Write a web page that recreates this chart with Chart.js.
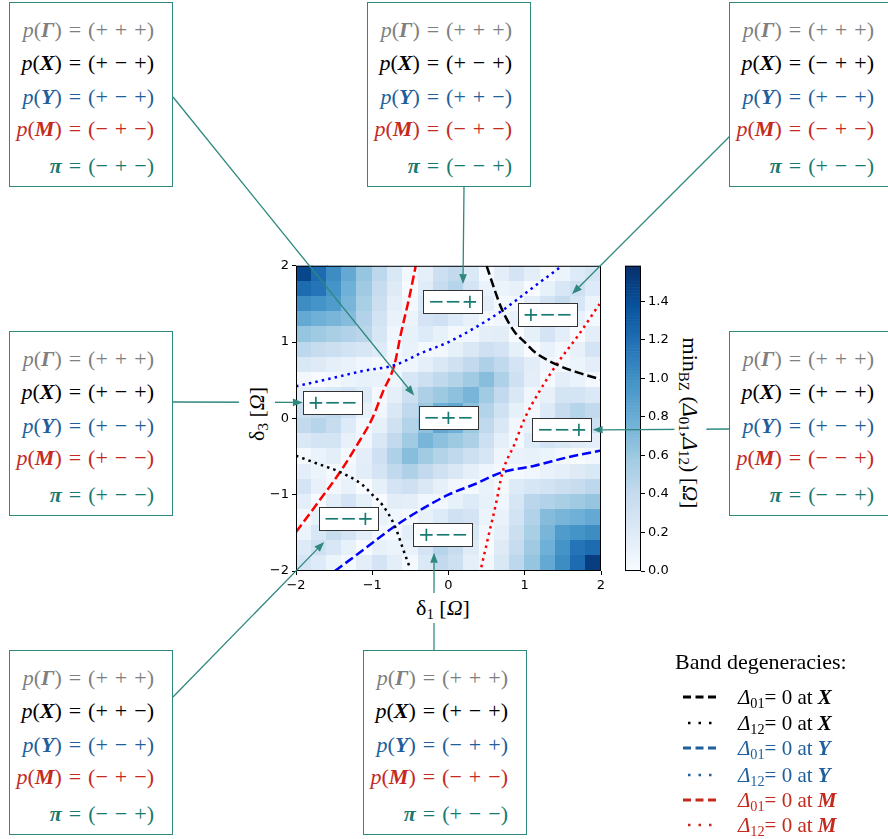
<!DOCTYPE html>
<html>
<head>
<meta charset="utf-8">
<script src="https://cdn.jsdelivr.net/npm/chart.js@4.4.1/dist/chart.umd.min.js"></script>
<style>
  html, body { margin: 0; padding: 0; background: #fff; }
  body { position: relative; width: 888px; height: 839px; overflow: hidden; font-family: "Liberation Serif", "Times New Roman", serif; }
  canvas { position: absolute; }
  #overlay { position: absolute; left: 0; top: 0; z-index: 1; pointer-events: none; }
  .pbox { position: absolute; width: 164px; box-sizing: border-box; border: 1.5px solid #2e887e; background: #fff; z-index: 2; }
  .prow { position: absolute; right: 18px; height: 26px; line-height: 26px; font-size: 22px; word-spacing: 1.5px; white-space: nowrap; }
  .c-g { color: #7f7f7f; } .c-x { color: #000; } .c-y { color: #1f5f9b; } .c-m { color: #c42a1e; } .c-pi { color: #177a70; }
  .tag { position: absolute; z-index: 2; width: 60px; height: 24px; box-sizing: border-box; border: 1.5px solid #333;
         background: #fff; color: #177a70; font-family: "DejaVu Sans", sans-serif; font-size: 20px; line-height: 20px; text-align: center; }
  .title { position: absolute; z-index: 2; background: #fff; white-space: nowrap; font-size: 22px; line-height: 24px; }
  sub { font-size: 0.68em; vertical-align: -0.3em; line-height: 0; }
  .leg { position: absolute; left: 738px; font-size: 21px; height: 24px; line-height: 24px; white-space: nowrap; z-index: 2; }
  .legtitle { font-size: 22px; }
</style>
</head>
<body>
<canvas id="main" width="380" height="360" style="left:240px;top:255px"></canvas>
<canvas id="cbar" width="85" height="330" style="left:615px;top:255px"></canvas>
<svg id="overlay" width="888" height="839"></svg>

<script>
(() => {
  // --- Datos ---
  const d1Centers = [-1.9,-1.7,-1.5,-1.3,-1.1,-0.9,-0.7,-0.5,-0.3,-0.1,0.1,0.3,0.5,0.7,0.9,1.1,1.3,1.5,1.7,1.9];
  const d3Centers = [1.9,1.7,1.5,1.3,1.1,0.9,0.7,0.5,0.3,0.1,-0.1,-0.3,-0.5,-0.7,-0.9,-1.1,-1.3,-1.5,-1.7,-1.9];
  const gapGrid = [
    [1.45,1.22,1.02,0.83,0.63,0.44,0.24,0.05,0.15,0.34,0.41,0.22,0.03,0.16,0.28,0.16,0.03,0.09,0.21,0.27],
    [1.22,1.17,0.98,0.78,0.59,0.39,0.20,0.00,0.19,0.39,0.47,0.28,0.10,0.09,0.12,0.00,0.13,0.25,0.33,0.21],
    [1.02,0.98,0.93,0.74,0.54,0.35,0.15,0.04,0.24,0.43,0.39,0.29,0.16,0.03,0.04,0.16,0.28,0.39,0.25,0.09],
    [0.83,0.78,0.74,0.69,0.50,0.30,0.11,0.09,0.28,0.32,0.21,0.12,0.02,0.06,0.11,0.28,0.42,0.28,0.13,0.03],
    [0.63,0.59,0.54,0.50,0.45,0.26,0.06,0.13,0.21,0.13,0.04,0.06,0.16,0.17,0.00,0.14,0.28,0.16,0.00,0.16],
    [0.44,0.39,0.35,0.30,0.26,0.21,0.02,0.11,0.03,0.05,0.14,0.23,0.33,0.28,0.14,0.00,0.11,0.04,0.12,0.28],
    [0.24,0.20,0.15,0.11,0.06,0.02,0.03,0.07,0.15,0.23,0.31,0.41,0.51,0.42,0.28,0.17,0.06,0.03,0.09,0.16],
    [0.05,0.00,0.04,0.09,0.13,0.11,0.07,0.26,0.34,0.42,0.49,0.58,0.68,0.51,0.33,0.16,0.02,0.16,0.10,0.03],
    [0.15,0.19,0.24,0.28,0.21,0.03,0.15,0.34,0.52,0.60,0.66,0.74,0.58,0.41,0.23,0.06,0.12,0.29,0.28,0.22],
    [0.34,0.39,0.43,0.32,0.13,0.05,0.23,0.42,0.60,0.78,0.84,0.66,0.49,0.31,0.14,0.04,0.21,0.39,0.47,0.41],
    [0.41,0.47,0.39,0.21,0.04,0.14,0.31,0.49,0.66,0.84,0.78,0.60,0.42,0.23,0.05,0.13,0.32,0.43,0.39,0.34],
    [0.22,0.28,0.29,0.12,0.06,0.23,0.41,0.58,0.74,0.66,0.60,0.52,0.34,0.15,0.03,0.21,0.28,0.24,0.19,0.15],
    [0.03,0.10,0.16,0.02,0.16,0.33,0.51,0.68,0.58,0.49,0.42,0.34,0.26,0.07,0.11,0.13,0.09,0.04,0.00,0.05],
    [0.16,0.09,0.03,0.06,0.17,0.28,0.42,0.51,0.41,0.31,0.23,0.15,0.07,0.03,0.02,0.06,0.11,0.15,0.20,0.24],
    [0.28,0.12,0.04,0.11,0.00,0.14,0.28,0.33,0.23,0.14,0.05,0.03,0.11,0.02,0.21,0.26,0.30,0.35,0.39,0.44],
    [0.16,0.00,0.16,0.28,0.14,0.00,0.17,0.16,0.06,0.04,0.13,0.21,0.13,0.06,0.26,0.45,0.50,0.54,0.59,0.63],
    [0.03,0.13,0.28,0.42,0.28,0.11,0.06,0.02,0.12,0.21,0.32,0.28,0.09,0.11,0.30,0.50,0.69,0.74,0.78,0.83],
    [0.09,0.25,0.39,0.28,0.16,0.04,0.03,0.16,0.29,0.39,0.43,0.24,0.04,0.15,0.35,0.54,0.74,0.93,0.98,1.02],
    [0.21,0.33,0.25,0.13,0.00,0.12,0.09,0.10,0.28,0.47,0.39,0.19,0.00,0.20,0.39,0.59,0.78,0.98,1.17,1.22],
    [0.27,0.21,0.09,0.03,0.16,0.28,0.16,0.03,0.22,0.41,0.34,0.15,0.05,0.24,0.44,0.63,0.83,1.02,1.22,1.50]
  ];
  const gapMax = 1.585;
  const axisTicks = [-2, -1, 0, 1, 2];
  const colorbarTicks = [0, 0.2, 0.4, 0.6, 0.8, 1.0, 1.2, 1.4];

  // lineas de degeneracion (delta1, delta3)
  const delta01X = [{x:0.50,y:2.0},{x:0.60,y:1.70},{x:0.70,y:1.43},{x:0.87,y:1.13},{x:1.0,y:1.0},{x:1.13,y:0.87},{x:1.43,y:0.70},{x:1.70,y:0.60},{x:2.0,y:0.51}];
  const delta12X = [{x:-2.0,y:-0.49},{x:-1.70,y:-0.60},{x:-1.43,y:-0.70},{x:-1.13,y:-0.87},{x:-1.0,y:-1.0},{x:-0.87,y:-1.13},{x:-0.70,y:-1.42},{x:-0.60,y:-1.70},{x:-0.51,y:-1.95}];
  const delta01Y = [{x:-1.49,y:-2.0},{x:-1.10,y:-1.71},{x:-0.70,y:-1.41},{x:-0.35,y:-1.19},{x:0.0,y:-1.0},{x:0.35,y:-0.86},{x:0.69,y:-0.71},{x:1.13,y:-0.62},{x:1.56,y:-0.51},{x:2.0,y:-0.42}];
  const delta12Y = [{x:-2.0,y:0.42},{x:-1.56,y:0.52},{x:-1.13,y:0.62},{x:-0.70,y:0.70},{x:-0.35,y:0.86},{x:0.0,y:1.0},{x:0.35,y:1.19},{x:0.70,y:1.41},{x:1.10,y:1.71},{x:1.49,y:2.0}];
  const delta01M = [{x:-2.0,y:-1.49},{x:-1.71,y:-1.10},{x:-1.42,y:-0.70},{x:-1.20,y:-0.35},{x:-1.0,y:0.0},{x:-0.86,y:0.35},{x:-0.71,y:0.70},{x:-0.62,y:1.13},{x:-0.52,y:1.56},{x:-0.43,y:2.0}];
  const delta12M = [{x:0.43,y:-1.95},{x:0.52,y:-1.56},{x:0.62,y:-1.13},{x:0.71,y:-0.70},{x:0.86,y:-0.35},{x:1.0,y:0.0},{x:1.19,y:0.35},{x:1.42,y:0.71},{x:1.71,y:1.10},{x:1.98,y:1.50}];

  // paridades de cada recuadro: TL, TC, TR, LM, RM, BL, BC
  const parGamma = ["+++", "+++", "+++", "+++", "+++", "+++", "+++"];
  const parX     = ["+−+", "+−+", "−++", "+−+", "+−+", "++−", "+−+"];
  const parY     = ["+−+", "++−", "+−+", "+−+", "+−+", "+−+", "−++"];
  const parM     = ["−+−", "−+−", "−+−", "+−−", "−−+", "−+−", "−+−"];
  const parPi    = ["−+−", "−−+", "+−−", "+−−", "−−+", "−−+", "+−−"];
  // etiqueta dentro del mapa (delta1, delta3) y punta de la flecha
  const tagCenters = [[0.0,0.0],[0.06,1.53],[1.30,1.35],[-1.52,0.20],[1.49,-0.15],[-1.31,-1.32],[-0.07,-1.53]];
  const arrowTips  = [[-0.45,0.30],[0.19,1.76],[1.62,1.63],[-1.91,0.21],[1.89,-0.15],[-1.63,-1.62],[-0.19,-1.76]];

  const legendSubs   = ["01", "12", "01", "12", "01", "12"];
  const legendPoints = ["X", "X", "Y", "Y", "M", "M"];

  // --- Estilos / layout ---
  const TEAL = "#2e887e";
  const BLUES = ["#f7fbff","#deebf7","#c6dbef","#9ecae1","#6baed6","#4292c6","#2171b5","#08519c","#08306b"];
  const hexRgb = h => [1, 3, 5].map(k => parseInt(h.substr(k, 2), 16));
  const blues = (t) => {
    t = Math.max(0, Math.min(1, t));
    const p = t * 8, i = Math.min(7, Math.floor(p)), f = p - i;
    const a = hexRgb(BLUES[i]), b = hexRgb(BLUES[i + 1]);
    return `rgb(${a.map((c, k) => Math.round(c + (b[k] - c) * f)).join(",")})`;
  };
  const tickFont = { family: "DejaVu Sans", size: 13 };
  const minus = v => String(v).replace("-", "\u2212");

  const boxLayout = [
    { left: 9,   top: 2,   tail: [173, 97] },
    { left: 367, top: 2,   tail: [464, 187] },
    { left: 729, top: 2,   tail: [730, 136] },
    { left: 9,   top: 331, tail: [173, 402] },
    { left: 729, top: 331, tail: [730, 429] },
    { left: 9,   top: 650, tail: [173, 697] },
    { left: 363, top: 650, tail: [434, 650] }
  ];
  const rowOffsets = [28, 61, 95, 127, 164];

  // --- Plugins ---
  const heatmapPlugin = {
    id: "heatmap",
    beforeDatasetsDraw(chart) {
      const { ctx, chartArea: a, scales: { x, y } } = chart;
      const hx = (d1Centers[1] - d1Centers[0]) / 2, hy = (d3Centers[0] - d3Centers[1]) / 2;
      ctx.save();
      ctx.beginPath(); ctx.rect(a.left, a.top, a.width, a.height); ctx.clip();
      gapGrid.forEach((row, j) => row.forEach((v, i) => {
        const x0 = x.getPixelForValue(d1Centers[i] - hx), x1 = x.getPixelForValue(d1Centers[i] + hx);
        const y0 = y.getPixelForValue(d3Centers[j] + hy), y1 = y.getPixelForValue(d3Centers[j] - hy);
        ctx.fillStyle = blues(v / gapMax);
        ctx.fillRect(Math.floor(x0), Math.floor(y0), Math.ceil(x1 - x0) + 1, Math.ceil(y1 - y0) + 1);
      }));
      ctx.restore();
    },
    afterDatasetsDraw(chart) {
      const { ctx, chartArea: a } = chart;
      ctx.save();
      ctx.strokeStyle = "#000"; ctx.lineWidth = 1;
      ctx.strokeRect(a.left + 0.5, a.top + 0.5, a.width - 1, a.height - 1);
      ctx.restore();
    }
  };

  const colorbarPlugin = {
    id: "colorbar",
    beforeDatasetsDraw(chart) {
      const { ctx, chartArea: a, scales: { y } } = chart;
      const n = 200;
      ctx.save();
      for (let k = 0; k < n; k++) {
        const v0 = gapMax * k / n, v1 = gapMax * (k + 1) / n;
        const p0 = y.getPixelForValue(v0), p1 = y.getPixelForValue(v1);
        ctx.fillStyle = blues((v0 + v1) / 2 / gapMax);
        ctx.fillRect(a.left, p1, a.width, p0 - p1 + 0.6);
      }
      ctx.strokeStyle = "#000"; ctx.lineWidth = 1;
      ctx.strokeRect(a.left + 0.5, a.top + 0.5, a.width - 1, a.height - 1);
      ctx.restore();
    }
  };

  const lineSet = (data, color, dotted) => ({
    data, borderColor: color, borderWidth: 2.5, showLine: true, pointRadius: 0, fill: false,
    cubicInterpolationMode: "monotone", borderDash: dotted ? [2.5, 4.1] : [9.2, 4], borderCapStyle: "butt"
  });

  const axisCommon = (pos) => ({
    type: "linear", min: -2, max: 2, position: pos,
    afterBuildTicks: s => { s.ticks = axisTicks.map(v => ({ value: v })); },
    ticks: { font: tickFont, color: "#000", padding: 3, callback: v => minus(v) },
    grid: { drawOnChartArea: false, drawTicks: true, tickLength: 4, tickWidth: 1, color: "#000" },
    border: { display: false }
  });

  const mainChart = new Chart(document.getElementById("main"), {
    type: "scatter",
    data: {
      datasets: [
        lineSet(delta01X, "#000", false),
        lineSet(delta12X, "#000", true),
        lineSet(delta01Y, "#0000ff", false),
        lineSet(delta12Y, "#0000ff", true),
        lineSet(delta01M, "#ff0000", false),
        lineSet(delta12M, "#ff0000", true)
      ]
    },
    options: {
      responsive: false, animation: false, devicePixelRatio: 1,
      layout: { padding: { left: 0, top: 10, right: 19, bottom: 0 } },
      plugins: { legend: { display: false }, tooltip: { enabled: false } },
      scales: {
        x: Object.assign(axisCommon("bottom"), { afterFit: s => { s.height = 44; } }),
        y: Object.assign(axisCommon("left"), { afterFit: s => { s.width = 56; } })
      }
    },
    plugins: [heatmapPlugin]
  });

  new Chart(document.getElementById("cbar"), {
    type: "scatter",
    data: { datasets: [] },
    options: {
      responsive: false, animation: false, devicePixelRatio: 1,
      layout: { padding: { left: 10, top: 10, right: 0, bottom: 14 } },
      plugins: { legend: { display: false }, tooltip: { enabled: false } },
      scales: {
        x: { display: false, min: 0, max: 1 },
        y: {
          position: "right", min: 0, max: gapMax,
          afterBuildTicks: s => { s.ticks = colorbarTicks.map(v => ({ value: v })); },
          afterFit: s => { s.width = 59; },
          ticks: { font: tickFont, color: "#000", padding: 3, callback: v => v.toFixed(1) },
          grid: { drawOnChartArea: false, drawTicks: true, tickLength: 4, tickWidth: 1, color: "#000" },
          border: { display: false }
        }
      }
    },
    plugins: [colorbarPlugin]
  });

  // --- Anotaciones HTML ---
  const body = document.body;
  const add = (cls, html, style) => {
    const d = document.createElement("div");
    d.className = cls; d.innerHTML = html; Object.assign(d.style, style);
    body.appendChild(d); return d;
  };
  const signs = p => "(" + [...p].join(" ") + ")";
  const mx = mainChart.scales.x, my = mainChart.scales.y;
  const px = v => 240 + mx.getPixelForValue(v);
  const py = v => 255 + my.getPixelForValue(v);

  boxLayout.forEach((b, k) => {
    const box = add("pbox", "", { left: b.left + "px", top: b.top + "px", height: "185px" });
    const rows = [
      ["c-g", `<i>p</i>(<b><i>Γ</i></b>) = ${signs(parGamma[k])}`],
      ["c-x", `<i>p</i>(<b><i>X</i></b>) = ${signs(parX[k])}`],
      ["c-y", `<i>p</i>(<b><i>Y</i></b>) = ${signs(parY[k])}`],
      ["c-m", `<i>p</i>(<b><i>M</i></b>) = ${signs(parM[k])}`],
      ["c-pi", `<b><i>π</i></b> = ${signs(parPi[k])}`]
    ];
    rows.forEach(([c, h], r) => {
      const d = document.createElement("div");
      d.className = "prow " + c; d.innerHTML = h;
      d.style.top = (rowOffsets[r] - 13 - 1.5) + "px";
      box.appendChild(d);
    });
    const [tx, ty] = tagCenters[k];
    add("tag", parPi[k], { left: (px(tx) - 30) + "px", top: (py(ty) - 12) + "px" });
  });

  // flechas
  const svg = document.getElementById("overlay");
  const NS = "http://www.w3.org/2000/svg";
  const el = (n, attrs) => { const e = document.createElementNS(NS, n); for (const k in attrs) e.setAttribute(k, attrs[k]); svg.appendChild(e); return e; };
  boxLayout.forEach((b, k) => {
    const [x1, y1] = b.tail;
    const x2 = px(arrowTips[k][0]), y2 = py(arrowTips[k][1]);
    const dx = x2 - x1, dy = y2 - y1, len = Math.hypot(dx, dy);
    const ux = dx / len, uy = dy / len, hl = 10, hw = 3.8;
    const bx = x2 - ux * hl, by = y2 - uy * hl;
    el("line", { x1, y1, x2: bx, y2: by, stroke: TEAL, "stroke-width": 1.3 });
    el("polygon", { points: `${x2},${y2} ${bx - uy * hw},${by + ux * hw} ${bx + uy * hw},${by - ux * hw}`, fill: TEAL });
  });

  // titulos de ejes
  const xt = add("title", "δ<sub>1</sub> [<i>Ω</i>]", { padding: "3px 4px" });
  xt.style.left = (443 - xt.offsetWidth / 2) + "px"; xt.style.top = (608 - xt.offsetHeight / 2) + "px";
  const yt = add("title", "δ<sub>3</sub> [<i>Ω</i>]", { padding: "6px 3px" });
  yt.style.left = (257 - yt.offsetWidth / 2) + "px"; yt.style.top = (414 - yt.offsetHeight / 2) + "px";
  yt.style.transform = "rotate(-90deg)";
  const ct = add("title", "min<sub>BZ</sub> (<i>Δ</i><sub>01</sub>,<i>Δ</i><sub>12</sub>) [<i>Ω</i>]", { padding: "4px 2px" });
  ct.style.left = (690 - ct.offsetWidth / 2) + "px"; ct.style.top = (423 - ct.offsetHeight / 2) + "px";
  ct.style.transform = "rotate(90deg)";

  // leyenda
  add("leg legtitle", "Band degeneracies:", { left: "675px", top: "650px" });
  const legColors = ["#000", "#000", "#1f5f9b", "#1f5f9b", "#c42a1e", "#c42a1e"];
  const legRows = [697, 723, 748, 775, 800, 825];
  legendSubs.forEach((s, r) => {
    add("leg", `<i>Δ</i><sub>${s}</sub>= 0 at <b><i>${legendPoints[r]}</i></b>`,
      { top: (legRows[r] - 12) + "px", color: legColors[r] });
    const dotted = s === "12";
    el("line", {
      x1: dotted ? 688 : 683, y1: legRows[r], x2: dotted ? 712 : 716, y2: legRows[r],
      stroke: legColors[r], "stroke-width": dotted ? 2.5 : 3,
      "stroke-dasharray": dotted ? "2.5 8" : "8 4.5"
    });
  });
})();
</script>
</body>
</html>
